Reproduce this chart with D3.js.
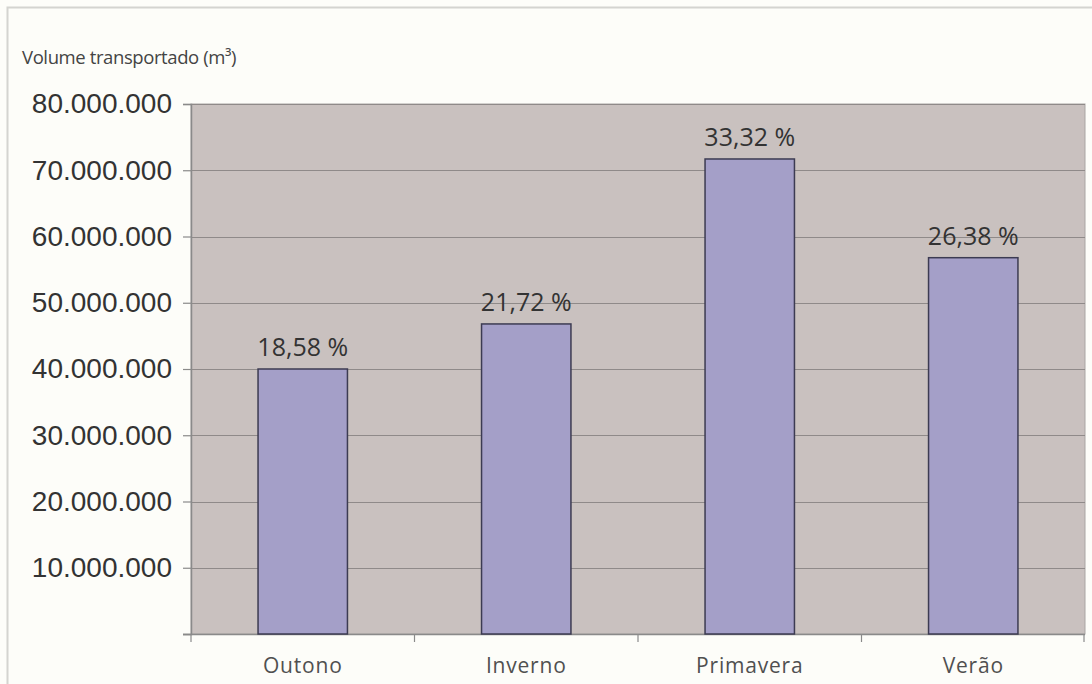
<!DOCTYPE html>
<html>
<head>
<meta charset="utf-8">
<script src="https://cdn.jsdelivr.net/npm/d3@7"></script>
<style>
  html, body { margin: 0; padding: 0; background: #fdfdf9; }
  svg { display: block; }
</style>
</head>
<body>
<svg id="chart" width="1092" height="684"></svg>
<script>
// Volume transported per season (m³) and its share of the yearly total
const seasons = ["Outono", "Inverno", "Primavera", "Verão"];
const volumes = [40000000, 46800000, 71700000, 56800000];
const shares = ["18,58 %", "21,72 %", "33,32 %", "26,38 %"];
const yTicks = [10000000, 20000000, 30000000, 40000000, 50000000, 60000000, 70000000, 80000000];
const yLabel = "Volume transportado (m³)";

const svg = d3.select("#chart");
const W = 1092, H = 684;
const plot = { left: 191, right: 1085, top: 104, bottom: 634 };

// outer frame
svg.append("path")
  .attr("d", `M7.5,${H} V7.5 H${W}`)
  .attr("fill", "none")
  .attr("stroke", "#d4d4d0")
  .attr("stroke-width", 2);

const x = d3.scaleBand()
  .domain(seasons)
  .range([plot.left, plot.right])
  .paddingInner(0.6)
  .paddingOuter(0.3);

const y = d3.scaleLinear()
  .domain([0, 80000000])
  .range([plot.bottom, plot.top]);

// plot background
svg.append("rect")
  .attr("x", plot.left)
  .attr("y", plot.top)
  .attr("width", plot.right - plot.left)
  .attr("height", plot.bottom - plot.top)
  .attr("fill", "#c9c1bf")
  .attr("stroke", "#a9a5a3")
  .attr("stroke-width", 1);

// horizontal gridlines
svg.append("g")
  .selectAll("line")
  .data(yTicks)
  .join("line")
  .attr("x1", plot.left)
  .attr("x2", plot.right)
  .attr("y1", d => Math.round(y(d)) + 0.5)
  .attr("y2", d => Math.round(y(d)) + 0.5)
  .attr("stroke", "#8f8a89")
  .attr("stroke-width", 1.2);

// y axis
const fmt = d3.formatLocale({ decimal: ",", thousands: ".", grouping: [3], currency: ["", ""] }).format(",d");
const yAxis = svg.append("g")
  .attr("transform", `translate(${plot.left},0)`)
  .call(d3.axisLeft(y).tickValues([0, ...yTicks]).tickSize(8).tickPadding(11).tickFormat(d => d === 0 ? "" : fmt(d)));
yAxis.select(".domain").attr("stroke", "#8a8a8a").attr("stroke-width", 1.5);
yAxis.selectAll(".tick line").attr("stroke", "#8a8a8a").attr("stroke-width", 1.2);
yAxis.selectAll(".tick text")
  .attr("fill", "#333")
  .style("font-family", "'Liberation Sans', Arial, sans-serif")
  .style("font-size", "28px");

// x axis: ticks at band boundaries
const xBase = svg.append("g").attr("transform", `translate(0,${plot.bottom})`);
xBase.append("line")
  .attr("x1", plot.left - 8).attr("x2", plot.right)
  .attr("y1", 0.5).attr("y2", 0.5)
  .attr("stroke", "#8a8a8a").attr("stroke-width", 1.5);
const step = x.step();
const boundaries = d3.range(seasons.length + 1).map(i => plot.left + i * step);
xBase.selectAll("line.tk")
  .data(boundaries)
  .join("line")
  .attr("class", "tk")
  .attr("x1", d => Math.min(d, plot.right - 1)).attr("x2", d => Math.min(d, plot.right - 1))
  .attr("y1", 0).attr("y2", 8)
  .attr("stroke", "#8a8a8a").attr("stroke-width", 1.2);
xBase.selectAll("text")
  .data(seasons)
  .join("text")
  .attr("x", d => x(d) + x.bandwidth() / 2)
  .attr("y", 39)
  .attr("text-anchor", "middle")
  .attr("fill", "#505050")
  .style("font-family", "'Open Sans', sans-serif")
  .style("font-size", "21px")
  .style("letter-spacing", "0.8px")
  .text(d => d);

// bars
svg.append("g")
  .selectAll("rect")
  .data(seasons)
  .join("rect")
  .attr("x", d => x(d))
  .attr("y", (d, i) => y(volumes[i]))
  .attr("width", x.bandwidth())
  .attr("height", (d, i) => plot.bottom - y(volumes[i]))
  .attr("fill", "#a49fc8")
  .attr("stroke", "#3c3b52")
  .attr("stroke-width", 1.5);

// share labels
svg.append("g")
  .selectAll("text")
  .data(seasons)
  .join("text")
  .attr("x", d => x(d) + x.bandwidth() / 2)
  .attr("y", (d, i) => y(volumes[i]) - 13)
  .attr("text-anchor", "middle")
  .attr("fill", "#333")
  .style("font-family", "'Open Sans', sans-serif")
  .style("font-size", "25px")
  .style("letter-spacing", "0px")
  .text((d, i) => shares[i]);

// axis title
svg.append("text")
  .attr("x", 22)
  .attr("y", 64)
  .attr("fill", "#444")
  .style("font-family", "'Open Sans', sans-serif")
  .style("font-size", "18.5px")
  .style("letter-spacing", "-0.4px")
  .text(yLabel);
</script>
</body>
</html>
